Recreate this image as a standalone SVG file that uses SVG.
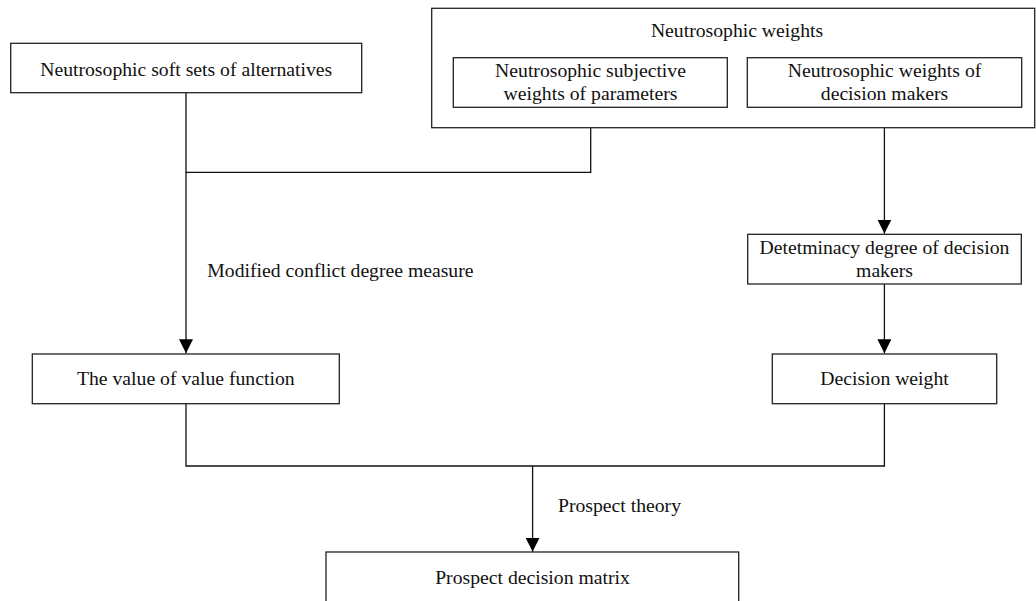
<svg xmlns="http://www.w3.org/2000/svg" width="1036" height="601" viewBox="0 0 1036 601">
<style>
.box{fill:#fff;stroke:#222;stroke-width:1.3}
.t{font-family:"Liberation Serif","Times New Roman",serif;font-size:19.7px;fill:#111;text-anchor:middle}
.l{font-family:"Liberation Serif","Times New Roman",serif;font-size:19.7px;fill:#111}
.c{fill:none;stroke:#111;stroke-width:1.3}
</style>
<defs>
<marker id="arr" markerUnits="userSpaceOnUse" markerWidth="14" markerHeight="14" viewBox="0 0 13 13" refX="13" refY="6.5" orient="auto">
<path d="M0,0 L13,6.5 L0,13 Z" fill="#000"/>
</marker>
</defs>
<rect width="1036" height="601" fill="#fff"/>
<g id="connectors">
<path class="c" d="M186,92.7 V172.3 H590.7 V107.3"/>
<path class="c" d="M186,172.3 V353.3" marker-end="url(#arr)"/>
<path class="c" d="M884.4,107.3 V233.6" marker-end="url(#arr)"/>
<path class="c" d="M884.4,284 V353.3" marker-end="url(#arr)"/>
<path class="c" d="M186,403.7 V466 H884.4 V403.7"/>
<path class="c" d="M532.6,466 V551.7" marker-end="url(#arr)"/>
<text class="l" x="207.3" y="276.7">Modified conflict degree measure</text>
<text class="l" x="558" y="511.7">Prospect theory</text>
</g>
<g id="n-alternatives">
<rect class="box" x="10.7" y="43.3" width="351" height="49.4"/>
<text class="t" x="186.2" y="76">Neutrosophic soft sets of alternatives</text>
</g>
<g id="n-weights">
<rect class="box" x="431.7" y="8.3" width="603" height="119.4"/>
<text class="t" x="737" y="37.3">Neutrosophic weights</text>
</g>
<g id="n-subjective">
<rect class="box" x="453.3" y="57.7" width="274" height="49.6"/>
<text class="t" x="590.5" y="77.3">Neutrosophic subjective</text>
<text class="t" x="590.5" y="100">weights of parameters</text>
</g>
<g id="n-dm-weights">
<rect class="box" x="747.3" y="57.7" width="274.4" height="49.6"/>
<text class="t" x="884.5" y="77.3">Neutrosophic weights of</text>
<text class="t" x="884.5" y="100">decision makers</text>
</g>
<g id="n-determinacy">
<rect class="box" x="747.7" y="234.3" width="273.6" height="49.7"/>
<text class="t" x="884.5" y="254">Detetminacy degree of decision</text>
<text class="t" x="884.5" y="277.3">makers</text>
</g>
<g id="n-value">
<rect class="box" x="32.3" y="354" width="307" height="49.7"/>
<text class="t" x="185.8" y="385">The value of value function</text>
</g>
<g id="n-decision-weight">
<rect class="box" x="772.3" y="354" width="224.4" height="49.7"/>
<text class="t" x="884.5" y="385">Decision weight</text>
</g>
<g id="n-prospect">
<rect class="box" x="326" y="552" width="412.7" height="60"/>
<text class="t" x="532.5" y="584">Prospect decision matrix</text>
</g>
</svg>
